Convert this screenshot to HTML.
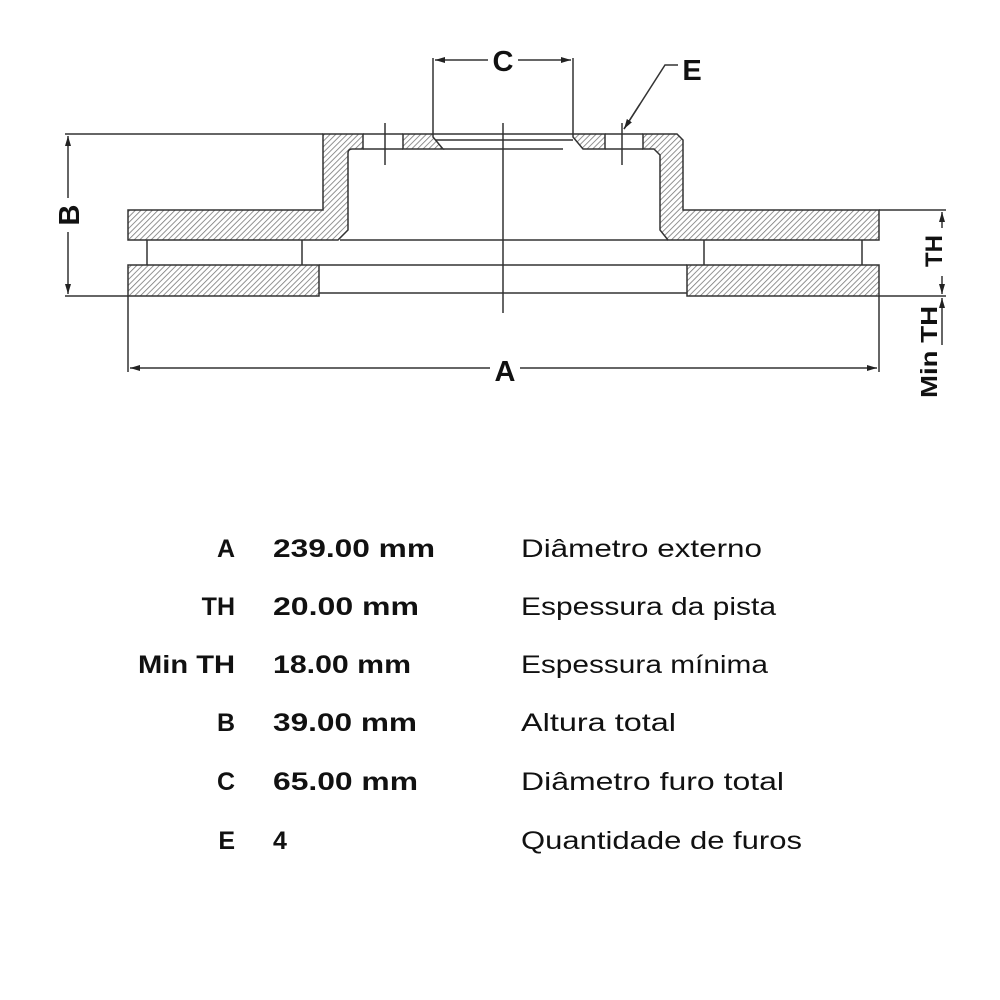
<!DOCTYPE html>
<html><head><meta charset="utf-8"><style>
html,body{margin:0;padding:0;background:#fff;}
svg{display:block;}
.t{font-family:"Liberation Sans",sans-serif;font-size:25px;fill:#111;}
.b{font-weight:bold;}
</style></head><body>
<svg width="1000" height="1000" viewBox="0 0 1000 1000" xmlns="http://www.w3.org/2000/svg">
<defs>
<pattern id="h" patternUnits="userSpaceOnUse" width="4" height="4" patternTransform="rotate(45)">
<rect width="4" height="4" fill="#fff"/>
<line x1="0" y1="0" x2="0" y2="4" stroke="#777" stroke-width="1.6"/>
</pattern>
<marker id="ar" markerWidth="10" markerHeight="6" refX="10" refY="3" orient="auto" markerUnits="userSpaceOnUse">
<path d="M0,0 L10,3 L0,6 z" fill="#222"/>
</marker>
</defs>
<g stroke="#333" stroke-width="1.5" fill="none">
<line x1="65" y1="134" x2="323" y2="134"/>
<line x1="65" y1="296" x2="128" y2="296"/>
<line x1="433" y1="134" x2="573" y2="134"/>
<line x1="433" y1="140" x2="573" y2="140"/>
<line x1="443" y1="149" x2="563" y2="149"/>
<line x1="363" y1="134" x2="403" y2="134"/>
<line x1="363" y1="149" x2="403" y2="149"/>
<line x1="605" y1="134" x2="643" y2="134"/>
<line x1="605" y1="149" x2="643" y2="149"/>
<line x1="340" y1="240" x2="668" y2="240"/>
<line x1="319" y1="265" x2="687" y2="265"/>
<line x1="319" y1="293" x2="687" y2="293"/>
<line x1="147" y1="240" x2="147" y2="265"/>
<line x1="302" y1="240" x2="302" y2="265"/>
<line x1="704" y1="240" x2="704" y2="265"/>
<line x1="862" y1="240" x2="862" y2="265"/>
<line x1="503" y1="123" x2="503" y2="313"/>
<line x1="385" y1="123" x2="385" y2="165"/>
<line x1="622" y1="123" x2="622" y2="165"/>
</g>
<g fill="url(#h)" stroke="#333" stroke-width="1.5">
<path d="M128,210 L323,210 L323,134 L363,134 L363,149 L352,149 Q348,149 348,153 L348,230 L338,240 L128,240 Z"/>
<path d="M403,134 L433,134 L433,137 L443,149 L403,149 Z"/>
<path d="M573,134 L605,134 L605,149 L583,149 L573,137 Z"/>
<path d="M643,134 L677,134 L683,140 L683,210 L879,210 L879,240 L668,240 L660,230 L660,155 L654,149 L643,149 Z"/>
<rect x="128" y="265" width="191" height="31"/>
<rect x="687" y="265" width="192" height="31"/>
</g>
<g stroke="#333" stroke-width="1.5" fill="none">
<line x1="128" y1="296" x2="128" y2="372"/>
<line x1="879" y1="296" x2="879" y2="372"/>
<line x1="490" y1="368" x2="130" y2="368" marker-end="url(#ar)"/>
<line x1="520" y1="368" x2="877" y2="368" marker-end="url(#ar)"/>
<line x1="433" y1="58" x2="433" y2="134"/>
<line x1="573" y1="58" x2="573" y2="134"/>
<line x1="488" y1="60" x2="435" y2="60" marker-end="url(#ar)"/>
<line x1="518" y1="60" x2="571" y2="60" marker-end="url(#ar)"/>
<polyline points="678,65 665,65 624,129" />
<line x1="640" y1="104" x2="624" y2="129" marker-end="url(#ar)"/>
<line x1="68" y1="198" x2="68" y2="136" marker-end="url(#ar)"/>
<line x1="68" y1="232" x2="68" y2="294" marker-end="url(#ar)"/>
<line x1="879" y1="210" x2="946" y2="210"/>
<line x1="879" y1="296" x2="946" y2="296"/>
<line x1="942" y1="228" x2="942" y2="212" marker-end="url(#ar)"/>
<line x1="942" y1="276" x2="942" y2="294" marker-end="url(#ar)"/>
<line x1="942" y1="345" x2="942" y2="298" marker-end="url(#ar)"/>
</g>
<g class="t b" font-size="28">
<text x="503" y="71" text-anchor="middle" font-size="29">C</text>
<text x="692" y="80" text-anchor="middle" font-size="29">E</text>
<text x="505" y="381" text-anchor="middle" font-size="29">A</text>
<text transform="translate(79,215) rotate(-90)" text-anchor="middle" font-size="29">B</text>
<text transform="translate(942,251) rotate(-90)" text-anchor="middle" font-size="24">TH</text>
<text transform="translate(937,352) rotate(-90)" text-anchor="middle" font-size="23" textLength="92" lengthAdjust="spacingAndGlyphs">Min TH</text>
</g>
<g class="t b">
<text x="235" y="557" text-anchor="end">A</text>
<text x="235" y="615" text-anchor="end">TH</text>
<text x="235" y="673" text-anchor="end" textLength="97" lengthAdjust="spacingAndGlyphs">Min TH</text>
<text x="235" y="731" text-anchor="end">B</text>
<text x="235" y="790" text-anchor="end">C</text>
<text x="235" y="849" text-anchor="end">E</text>
<text x="273" y="557" textLength="162" lengthAdjust="spacingAndGlyphs">239.00 mm</text>
<text x="273" y="615" textLength="146" lengthAdjust="spacingAndGlyphs">20.00 mm</text>
<text x="273" y="673" textLength="138" lengthAdjust="spacingAndGlyphs">18.00 mm</text>
<text x="273" y="731" textLength="144" lengthAdjust="spacingAndGlyphs">39.00 mm</text>
<text x="273" y="790" textLength="145" lengthAdjust="spacingAndGlyphs">65.00 mm</text>
<text x="273" y="849">4</text>
</g>
<g class="t">
<text x="521" y="557" textLength="241" lengthAdjust="spacingAndGlyphs">Diâmetro externo</text>
<text x="521" y="615" textLength="255" lengthAdjust="spacingAndGlyphs">Espessura da pista</text>
<text x="521" y="673" textLength="247" lengthAdjust="spacingAndGlyphs">Espessura mínima</text>
<text x="521" y="731" textLength="155" lengthAdjust="spacingAndGlyphs">Altura total</text>
<text x="521" y="790" textLength="263" lengthAdjust="spacingAndGlyphs">Diâmetro furo total</text>
<text x="521" y="849" textLength="281" lengthAdjust="spacingAndGlyphs">Quantidade de furos</text>
</g>
</svg>
</body></html>
